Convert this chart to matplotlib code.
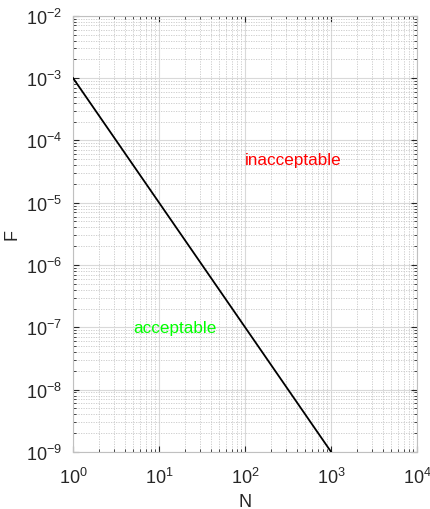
import matplotlib
matplotlib.use("Agg")
import matplotlib.pyplot as plt
from matplotlib.ticker import LogLocator, NullFormatter

plt.rcParams['font.family'] = ['Liberation Sans', 'DejaVu Sans']
plt.rcParams['mathtext.fontset'] = 'custom'
plt.rcParams['mathtext.rm'] = 'Liberation Sans'
plt.rcParams['mathtext.it'] = 'Liberation Sans:italic'
plt.rcParams['mathtext.default'] = 'regular'

# data
N = [1, 1000]
F = [1e-3, 1e-9]
x_limits = [1, 1e4]
y_limits = [1e-9, 1e-2]
labels = ["inacceptable", "acceptable"]
label_x = [100, 5]
label_y = [5e-5, 1e-7]
label_colors = ["#ff0000", "#00ff00"]

fig = plt.figure(figsize=(4.3, 5.1), dpi=100)
ax = fig.add_axes([0.170, 0.112, 0.800, 0.855])

ax.set_xscale('log')
ax.set_yscale('log')
ax.set_xlim(*x_limits)
ax.set_ylim(*y_limits)

ax.plot(N, F, color='black', lw=1.3, zorder=3)

for t, xx, yy, c in zip(labels, label_x, label_y, label_colors):
    ax.text(xx, yy, t, color=c, fontsize=12.3, ha='left', va='center', zorder=4)

ax.xaxis.set_major_locator(LogLocator(base=10, numticks=10))
ax.yaxis.set_major_locator(LogLocator(base=10, numticks=10))
ax.xaxis.set_minor_locator(LogLocator(base=10, subs=range(2, 10), numticks=20))
ax.yaxis.set_minor_locator(LogLocator(base=10, subs=range(2, 10), numticks=20))
ax.xaxis.set_minor_formatter(NullFormatter())
ax.yaxis.set_minor_formatter(NullFormatter())

ax.grid(True, which='major', color='#d9d9d9', lw=0.8, ls='-', zorder=0)
ax.grid(True, which='minor', color='#c8c8c8', lw=0.6, ls=(0, (1.5, 1.5)), zorder=0)

for s in ax.spines.values():
    s.set_color('#c0c0c0')
    s.set_linewidth(0.8)

ax.tick_params(which='both', direction='in', top=True, right=True,
               colors='#262626', labelcolor='#262626')
ax.tick_params(which='major', length=4, width=0.8, labelsize=13, pad=8)
ax.tick_params(axis='x', which='major', pad=11)
ax.tick_params(which='minor', length=2.5, width=0.6)

ax.set_xlabel('N', fontsize=13, color='#262626', labelpad=4)
ax.set_ylabel('F', fontsize=13, color='#262626', labelpad=4)

fig.savefig('out.png', dpi=100)
